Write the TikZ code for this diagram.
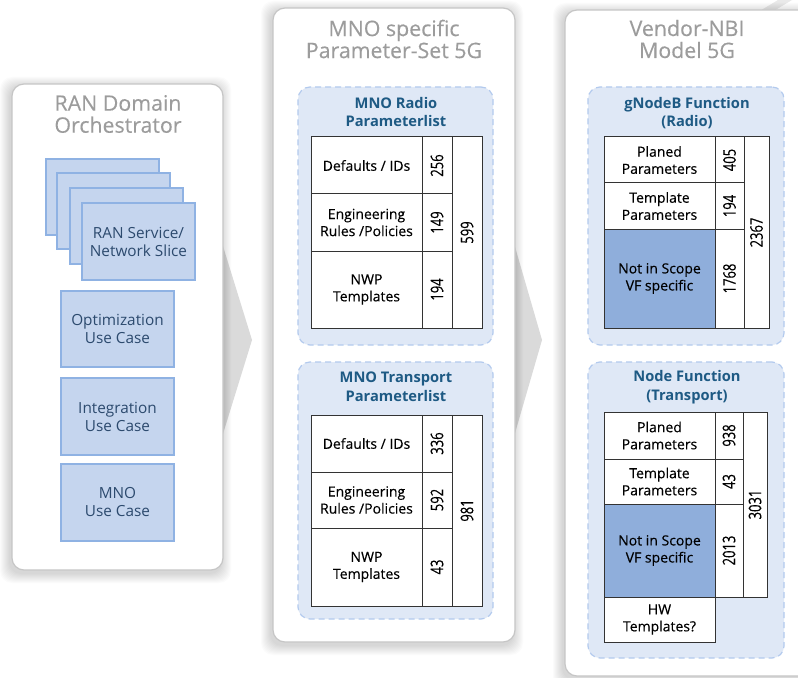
\documentclass[tikz,border=0pt]{standalone}
\usepackage{fontspec}
\setmainfont{Open Sans}
\newfontfamily\tabfont[FakeBold=0.25]{Open Sans}
\newfontfamily\numfont[FakeStretch=0.75,FakeBold=0.25]{Open Sans}
\usetikzlibrary{fit}
\newlength\px \setlength\px{0.75pt}
\definecolor{paneledge}{HTML}{C6C6C6}
\definecolor{titlegray}{HTML}{9C9C9C}
\definecolor{boxfill}{HTML}{C5D5EE}
\definecolor{boxedge}{HTML}{8FB2E3}
\definecolor{boxtext}{HTML}{2C4A6E}
\definecolor{grpfill}{HTML}{DFE8F6}
\definecolor{grpedge}{HTML}{B3CAEE}
\definecolor{grptext}{HTML}{1E5A84}
\definecolor{cellfill}{HTML}{8FAEDB}
\definecolor{chev}{HTML}{DADADA}
\newcommand\pshadow[4]{\foreach \i in {1,...,10}{\fill[black,opacity=0.014,rounded corners=12\px] (#1-\i-2,#2-\i+3) rectangle (#3+\i-2,#4+\i+3);}}
\begin{document}
\begin{tikzpicture}[x=0.75pt,y=-0.75pt,
  panel/.style={draw=paneledge, line width=1.2\px, fill=white, rounded corners=12\px, inner sep=0pt},
  ptitle/.style={text=titlegray, font=\tabfont\fontsize{16}{16.5}\selectfont, align=center, inner sep=0pt},
  ubox/.style={draw=boxedge, fill=boxfill, line width=1.2\px, inner sep=0pt},
  boxlbl/.style={text=boxtext, font=\fontsize{11.5}{13.5}\selectfont, align=center, inner sep=0pt},
  bt/.style={label={[boxlbl]center:{#1}}},
  grp/.style={draw=grpedge, fill=grpfill, dash pattern=on 6\px off 4\px, rounded corners=12\px, line width=1.2\px, inner sep=0pt},
  gtitle/.style={text=grptext, font=\bfseries\fontsize{11}{14}\selectfont, align=center, inner sep=0pt},
  cell/.style={draw=black!80, fill=white, line width=1\px, inner sep=0pt},
  hcell/.style={cell, fill=cellfill},
  tablbl/.style={font=\tabfont\fontsize{10.5}{12.8}\selectfont, align=center, inner sep=0pt},
  ct/.style={label={[tablbl]center:{#1}}},
  numl/.style={rotate=90, inner sep=0pt, font=\numfont\fontsize{13}{13}\selectfont},
  nt/.style={label={[numl]center:{#1}}}
]
\useasboundingbox (0,0) rectangle (798,677);
\clip (0,0) rectangle (798,677);
\fill[white] (0,0) rectangle (798,677);
% chevrons
\fill[chev] (184,120) -- (252,340) -- (184,560) -- cycle;
\fill[chev] (480,126) -- (542,340) -- (480,554) -- cycle;
\fill[chev!60] (778,0) -- (792,0) -- (772,12) -- (758,12) -- cycle;
% shadows
\pshadow{12}{84}{223}{570}
\pshadow{273}{8}{515}{642}
\pshadow{565}{10}{812}{676}
% panels
\node[panel, fit={(12,84) (223,570)}] (p1) {};
\node[panel, fit={(273,8) (515,642)}] (p2) {};
\node[panel, fit={(565,10) (812,676)}] (p3) {};
\node[ptitle] (t1) at (118,114) {RAN Domain\\Orchestrator};
\node[ptitle] (t2) at (394,39) {MNO specific\\Parameter-Set 5G};
\node[ptitle] (t3) at (687,39) {Vendor-NBI\\Model 5G};
% left column
\node[ubox, fit={(46,159) (159,235)}] (s1) {};
\node[ubox, fit={(57,173) (170,249)}] (s2) {};
\node[ubox, fit={(70,188) (183,264)}] (s3) {};
\node[ubox, fit={(82,203) (195,280)}, bt={RAN Service/\\Network Slice}] (s4) {};
\node[ubox, fit={(61,291) (174,367)}, bt={Optimization\\Use Case}] (uc1) {};
\node[ubox, fit={(61,378) (174,455)}, bt={Integration\\Use Case}] (uc2) {};
\node[ubox, fit={(61,464) (174,541)}, bt={MNO\\Use Case}] (uc3) {};
% MNO radio
\node[grp, fit={(298,87) (493,345)}] (g1) {};
\node[gtitle] (g1t) at (396,112) {MNO Radio\\Parameterlist};
\node[cell, fit={(311,137) (422,194)}, ct={Defaults / IDs}] (r1) {};
\node[cell, fit={(311,194) (422,251)}, ct={Engineering\\Rules /Policies}] (r2) {};
\node[cell, fit={(311,251) (422,328)}, ct={NWP\\Templates}] (r3) {};
\node[cell, fit={(422,137) (452,194)}, nt=256] (r1n) {};
\node[cell, fit={(422,194) (452,251)}, nt=149] (r2n) {};
\node[cell, fit={(422,251) (452,328)}, nt=194] (r3n) {};
\node[cell, fit={(452,137) (482,328)}, nt=599] (rs) {};
% MNO transport
\node[grp, fit={(298,362) (493,619)}] (g2) {};
\node[gtitle] (g2t) at (396,387) {MNO Transport\\Parameterlist};
\node[cell, fit={(311,415) (422,472)}, ct={Defaults / IDs}] (m1) {};
\node[cell, fit={(311,472) (422,528)}, ct={Engineering\\Rules /Policies}] (m2) {};
\node[cell, fit={(311,528) (422,606)}, ct={NWP\\Templates}] (m3) {};
\node[cell, fit={(422,415) (452,472)}, nt=336] (m1n) {};
\node[cell, fit={(422,472) (452,528)}, nt=592] (m2n) {};
\node[cell, fit={(422,528) (452,606)}, nt=43] (m3n) {};
\node[cell, fit={(452,415) (482,606)}, nt=981] (ms) {};
% gNodeB
\node[grp, fit={(588,87) (784,345)}] (g3) {};
\node[gtitle] (g3t) at (687,113) {gNodeB Function\\(Radio)};
\node[cell, fit={(604,137) (715,183)}, ct={Planed\\Parameters}] (n1) {};
\node[cell, fit={(604,183) (715,229)}, ct={Template\\Parameters}] (n2) {};
\node[hcell, fit={(604,229) (715,328)}, ct={Not in Scope\\VF specific}] (n3) {};
\node[cell, fit={(715,137) (744,183)}, nt=405] (n1n) {};
\node[cell, fit={(715,183) (744,229)}, nt=194] (n2n) {};
\node[cell, fit={(715,229) (744,328)}, nt=1768] (n3n) {};
\node[cell, fit={(744,137) (769,328)}, nt=2367] (ns) {};
% Node function
\node[grp, fit={(588,362) (784,658)}] (g4) {};
\node[gtitle] (g4t) at (687,387) {Node Function\\(Transport)};
\node[cell, fit={(604,412) (715,459)}, ct={Planed\\Parameters}] (f1) {};
\node[cell, fit={(604,459) (715,504)}, ct={Template\\Parameters}] (f2) {};
\node[hcell, fit={(604,504) (715,597)}, ct={Not in Scope\\VF specific}] (f3) {};
\node[cell, fit={(604,597) (715,642)}, ct={HW\\Templates?}] (f4) {};
\node[cell, fit={(715,412) (743,459)}, nt=938] (f1n) {};
\node[cell, fit={(715,459) (743,504)}, nt=43] (f2n) {};
\node[cell, fit={(715,504) (743,597)}, nt=2013] (f3n) {};
\node[cell, fit={(743,412) (767,597)}, nt=3031] (fs) {};
\end{tikzpicture}
\end{document}
